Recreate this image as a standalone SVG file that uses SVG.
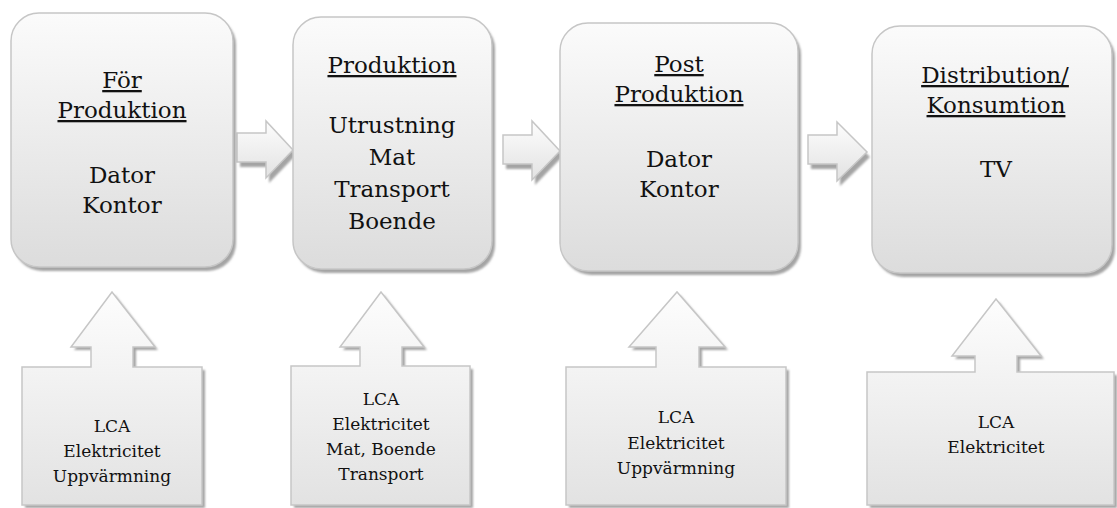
<svg xmlns="http://www.w3.org/2000/svg" width="1117" height="508" viewBox="0 0 1117 508">
<defs>
<linearGradient id="g" x1="0" y1="0" x2="0" y2="1">
<stop offset="0" stop-color="#fbfbfb"/>
<stop offset="1" stop-color="#dcdcdc"/>
</linearGradient>
<linearGradient id="ga" x1="0" y1="0" x2="0" y2="1">
<stop offset="0" stop-color="#fdfdfd"/>
<stop offset="1" stop-color="#e2e2e2"/>
</linearGradient>
<filter id="blur" x="-10%" y="-10%" width="120%" height="120%"><feGaussianBlur stdDeviation="0.8"/></filter>
</defs>
<style>
.sh{fill:#a4a4a4;filter:url(#blur)}
.box{fill:url(#g);stroke:#c6c6c6;stroke-width:1.5}
.arr{fill:url(#ga);stroke:#c6c6c6;stroke-width:1.5;stroke-linejoin:miter}
.t{font-family:"DejaVu Serif","Liberation Serif",serif;font-size:23px;fill:#111;text-anchor:middle}
.s{font-family:"DejaVu Serif","Liberation Serif",serif;font-size:17px;fill:#111;text-anchor:middle}
.u{text-decoration:underline}
</style>

<g id="connectors">
<polygon class="sh" transform="translate(3,5)" points="237,133 266,133 266,121 293,150 266,178 266,162 237,162"/>
<polygon class="arr" points="237,133 266,133 266,121 293,150 266,178 266,162 237,162"/>
<polygon class="sh" transform="translate(3,5)" points="503,135 532,135 532,121 560,151 532,180 532,164 503,164"/>
<polygon class="arr" points="503,135 532,135 532,121 560,151 532,180 532,164 503,164"/>
<polygon class="sh" transform="translate(3,5)" points="808,135 837,135 837,122 867,152 837,181 837,164 808,164"/>
<polygon class="arr" points="808,135 837,135 837,122 867,152 837,181 837,164 808,164"/>
</g>

<g id="node-forproduktion">
<rect class="sh" x="14" y="17" width="222" height="254" rx="28"/>
<rect class="box" x="11" y="13" width="222" height="254" rx="28"/>
<text class="t u" x="122" y="88">För</text>
<text class="t u" x="122" y="118">Produktion</text>
<text class="t" x="122" y="183">Dator</text>
<text class="t" x="122" y="213">Kontor</text>
</g>

<g id="node-produktion">
<rect class="sh" x="296" y="21" width="199" height="252" rx="28"/>
<rect class="box" x="293" y="17" width="199" height="252" rx="28"/>
<text class="t u" x="392" y="73">Produktion</text>
<text class="t" x="392" y="133">Utrustning</text>
<text class="t" x="392" y="165">Mat</text>
<text class="t" x="392" y="197">Transport</text>
<text class="t" x="392" y="229">Boende</text>
</g>

<g id="node-postproduktion">
<rect class="sh" x="563" y="27" width="238" height="248" rx="28"/>
<rect class="box" x="560" y="23" width="238" height="248" rx="28"/>
<text class="t u" x="679" y="72">Post</text>
<text class="t u" x="679" y="102">Produktion</text>
<text class="t" x="679" y="167">Dator</text>
<text class="t" x="679" y="197">Kontor</text>
</g>

<g id="node-distribution">
<rect class="sh" x="875" y="30" width="240" height="247" rx="28"/>
<rect class="box" x="872" y="26" width="240" height="247" rx="28"/>
<text class="t u" x="995" y="83">Distribution/</text>
<text class="t u" x="996" y="113">Konsumtion</text>
<text class="t" x="996" y="177">TV</text>
</g>

<g id="node-lca1">
<polygon class="sh" transform="translate(3,3)" points="22,505 22,367 91,367 91,347 71,347 112,292 155,347 133,347 133,367 202,367 202,505"/>
<polygon class="arr" points="22,505 22,367 91,367 91,347 71,347 112,292 155,347 133,347 133,367 202,367 202,505"/>
<text class="s" x="112" y="432">LCA</text>
<text class="s" x="112" y="457">Elektricitet</text>
<text class="s" x="112" y="482">Uppvärmning</text>
</g>

<g id="node-lca2">
<polygon class="sh" transform="translate(3,3)" points="291,505 291,366 360,366 360,347 340,347 381,292 424,347 402,347 402,366 470,366 470,505"/>
<polygon class="arr" points="291,505 291,366 360,366 360,347 340,347 381,292 424,347 402,347 402,366 470,366 470,505"/>
<text class="s" x="381" y="405">LCA</text>
<text class="s" x="381" y="430">Elektricitet</text>
<text class="s" x="381" y="455">Mat, Boende</text>
<text class="s" x="381" y="480">Transport</text>
</g>

<g id="node-lca3">
<polygon class="sh" transform="translate(3,3)" points="566,505 566,367 656,367 656,347 629,347 677,292 725,347 699,347 699,367 786,367 786,505"/>
<polygon class="arr" points="566,505 566,367 656,367 656,347 629,347 677,292 725,347 699,347 699,367 786,367 786,505"/>
<text class="s" x="676" y="423">LCA</text>
<text class="s" x="676" y="449">Elektricitet</text>
<text class="s" x="676" y="474">Uppvärmning</text>
</g>

<g id="node-lca4">
<polygon class="sh" transform="translate(3,3)" points="867,505 867,372 975,372 975,356 952,356 996,299 1041,356 1017,356 1017,372 1114,372 1114,505"/>
<polygon class="arr" points="867,505 867,372 975,372 975,356 952,356 996,299 1041,356 1017,356 1017,372 1114,372 1114,505"/>
<text class="s" x="996" y="428">LCA</text>
<text class="s" x="996" y="453">Elektricitet</text>
</g>
</svg>
